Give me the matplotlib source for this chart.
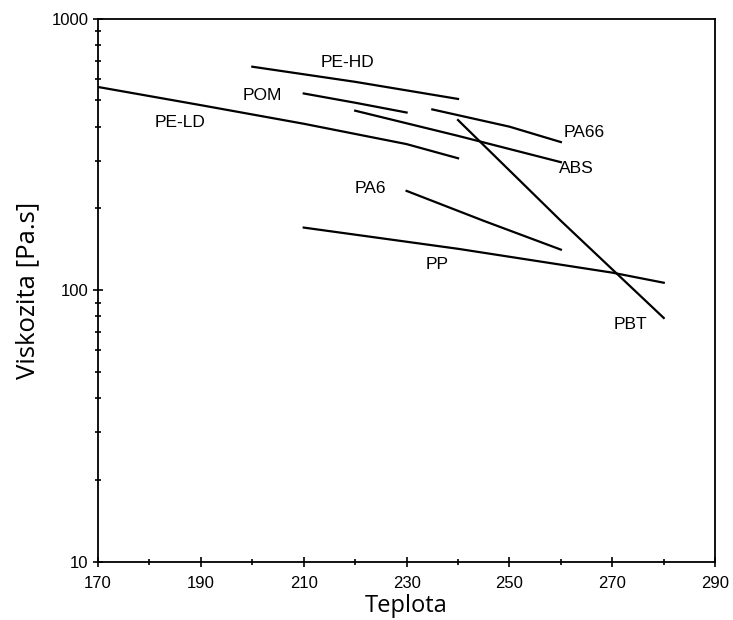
import matplotlib.pyplot as plt
from matplotlib.ticker import FixedLocator, LogLocator, NullFormatter

# temperature / viscosity pairs
pe_ld_t = [170, 190, 210, 230, 240]
pe_ld_v = [560, 480, 410, 345, 306]
pe_hd_t = [200, 220, 240]
pe_hd_v = [665, 585, 506]
pom_t = [210, 220, 230]
pom_v = [530, 490, 451]
pa66_t = [235, 250, 260]
pa66_v = [463, 400, 351]
abs_t = [220, 240, 260]
abs_v = [458, 370, 296]
pbt_t = [240, 260, 280]
pbt_v = [423, 180, 79]
pa6_t = [230, 245, 260]
pa6_v = [232, 180, 141]
pp_t = [210, 240, 270, 280]
pp_v = [170, 142, 116, 106.5]

series = [(pe_ld_t, pe_ld_v), (pe_hd_t, pe_hd_v), (pom_t, pom_v), (pa66_t, pa66_v),
          (abs_t, abs_v), (pbt_t, pbt_v), (pa6_t, pa6_v), (pp_t, pp_v)]

labels = ['PE-HD', 'POM', 'PE-LD', 'PA66', 'ABS', 'PA6', 'PP', 'PBT']
label_t = [218.5, 202, 186, 264.5, 263, 223, 236, 273.5]
label_v = [687, 520, 416, 380, 280, 236, 124, 74.6]

x_ticks = [170, 190, 210, 230, 250, 270, 290]
y_ticks = [10, 100, 1000]

fig = plt.figure(figsize=(7.33, 6.2), dpi=100)
ax = fig.add_axes([0.1337, 0.094, 0.842, 0.876])

for t, v in series:
    ax.plot(t, v, color='black', linewidth=1.6)

for lab, t, v in zip(labels, label_t, label_v):
    ax.text(t, v, lab, fontsize=12.5, family='Liberation Sans', ha='center', va='center')

ax.set_yscale('log')
ax.set_xlim(170, 290)
ax.set_ylim(10, 1000)
ax.xaxis.set_major_locator(FixedLocator(x_ticks))
ax.xaxis.set_minor_locator(FixedLocator(list(range(170, 291, 10))))
ax.yaxis.set_major_locator(FixedLocator(y_ticks))
ax.yaxis.set_minor_locator(LogLocator(base=10, subs=range(2, 10)))
ax.yaxis.set_minor_formatter(NullFormatter())
ax.set_yticklabels([str(v) for v in y_ticks])
ax.tick_params(which='both', direction='inout', length=7, width=1.2, labelsize=12)
ax.tick_params(which='minor', length=5)
ax.tick_params(axis='x', which='major', pad=7)
for lab in ax.get_xticklabels() + ax.get_yticklabels():
    lab.set_family('Liberation Sans')
for s in ax.spines.values():
    s.set_linewidth(1.3)

ax.set_xlabel('Teplota', fontsize=17, family='Open Sans', labelpad=2)
ax.set_ylabel('Viskozita [Pa.s]', fontsize=18.5, family='Open Sans', labelpad=8)

plt.savefig('out.png', dpi=100)
